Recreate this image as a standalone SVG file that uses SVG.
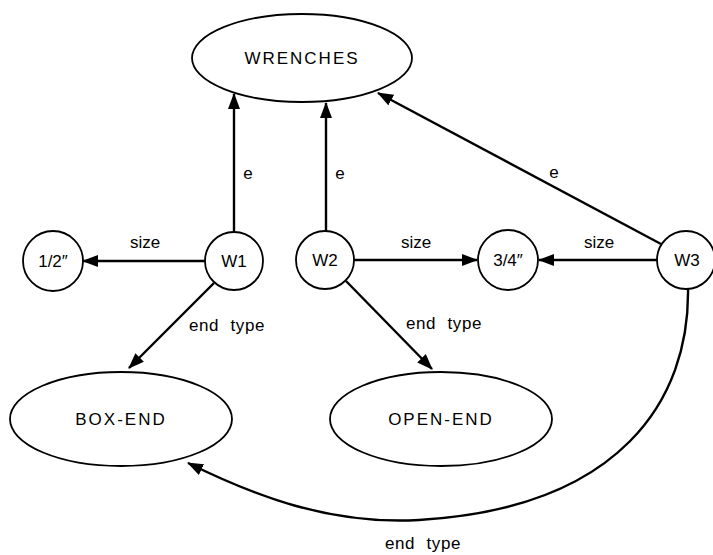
<svg xmlns="http://www.w3.org/2000/svg" width="713" height="555" viewBox="0 0 713 555">
<defs>
<marker id="ah" viewBox="0 0 16 12" refX="15" refY="6" markerWidth="16" markerHeight="12" markerUnits="userSpaceOnUse" orient="auto">
<path d="M0,0 L16,6 L0,12 Z" fill="#000"/>
</marker>
</defs>
<style>
.node{fill:#fff;stroke:#000;stroke-width:1.8}
.lbl{font-family:"Liberation Sans",Arial,sans-serif;font-size:17px;fill:#000;text-anchor:middle}
.big{letter-spacing:2px}
.edge{fill:none;stroke:#000;stroke-width:2.4;marker-end:url(#ah)}
.el{font-family:"Liberation Sans",Arial,sans-serif;font-size:17px;fill:#000;text-anchor:middle}
.et{word-spacing:6px;letter-spacing:0.6px}
</style>
<rect width="713" height="555" fill="#fff"/>
<g id="connectors">
<line class="edge" x1="234" y1="232" x2="234" y2="94"/>
<line class="edge" x1="326" y1="231" x2="326" y2="103"/>
<line class="edge" x1="661" y1="244" x2="378" y2="93"/>
<line class="edge" x1="205" y1="261" x2="83" y2="261"/>
<line class="edge" x1="354" y1="260" x2="477" y2="260"/>
<line class="edge" x1="657" y1="260" x2="539" y2="260"/>
<line class="edge" x1="214" y1="283" x2="129" y2="368"/>
<line class="edge" x1="346" y1="281" x2="432" y2="369"/>
<path class="edge" d="M688,288 C690,400 620,508 419,520 C330,525 255,496 188,463"/>
<text class="el" x="248" y="179">e</text>
<text class="el" x="340" y="179">e</text>
<text class="el" x="554" y="178">e</text>
<text class="el" x="145" y="248">size</text>
<text class="el" x="416" y="248">size</text>
<text class="el" x="599" y="248">size</text>
<text class="el et" x="227" y="331">end type</text>
<text class="el et" x="444" y="329">end type</text>
<text class="el et" x="423" y="549">end type</text>
</g>
<g id="wrenches">
<ellipse class="node" cx="302" cy="58" rx="110" ry="44"/>
<text class="lbl big" x="302" y="64">WRENCHES</text>
</g>
<g id="w1">
<circle class="node" cx="234" cy="261" r="29"/>
<text class="lbl" x="234" y="267">W1</text>
</g>
<g id="w2">
<circle class="node" cx="325" cy="260" r="29"/>
<text class="lbl" x="325" y="266">W2</text>
</g>
<g id="w3">
<circle class="node" cx="686" cy="260" r="29"/>
<text class="lbl" x="687" y="266">W3</text>
</g>
<g id="half">
<circle class="node" cx="53" cy="261" r="30"/>
<text class="lbl" x="53" y="267">1/2″</text>
</g>
<g id="threequarter">
<circle class="node" cx="508" cy="260" r="30"/>
<text class="lbl" x="508" y="266">3/4″</text>
</g>
<g id="boxend">
<ellipse class="node" cx="121" cy="419" rx="111" ry="47"/>
<text class="lbl big" x="121" y="425">BOX-END</text>
</g>
<g id="openend">
<ellipse class="node" cx="441" cy="419" rx="111" ry="47"/>
<text class="lbl big" x="441" y="425">OPEN-END</text>
</g>
</svg>
